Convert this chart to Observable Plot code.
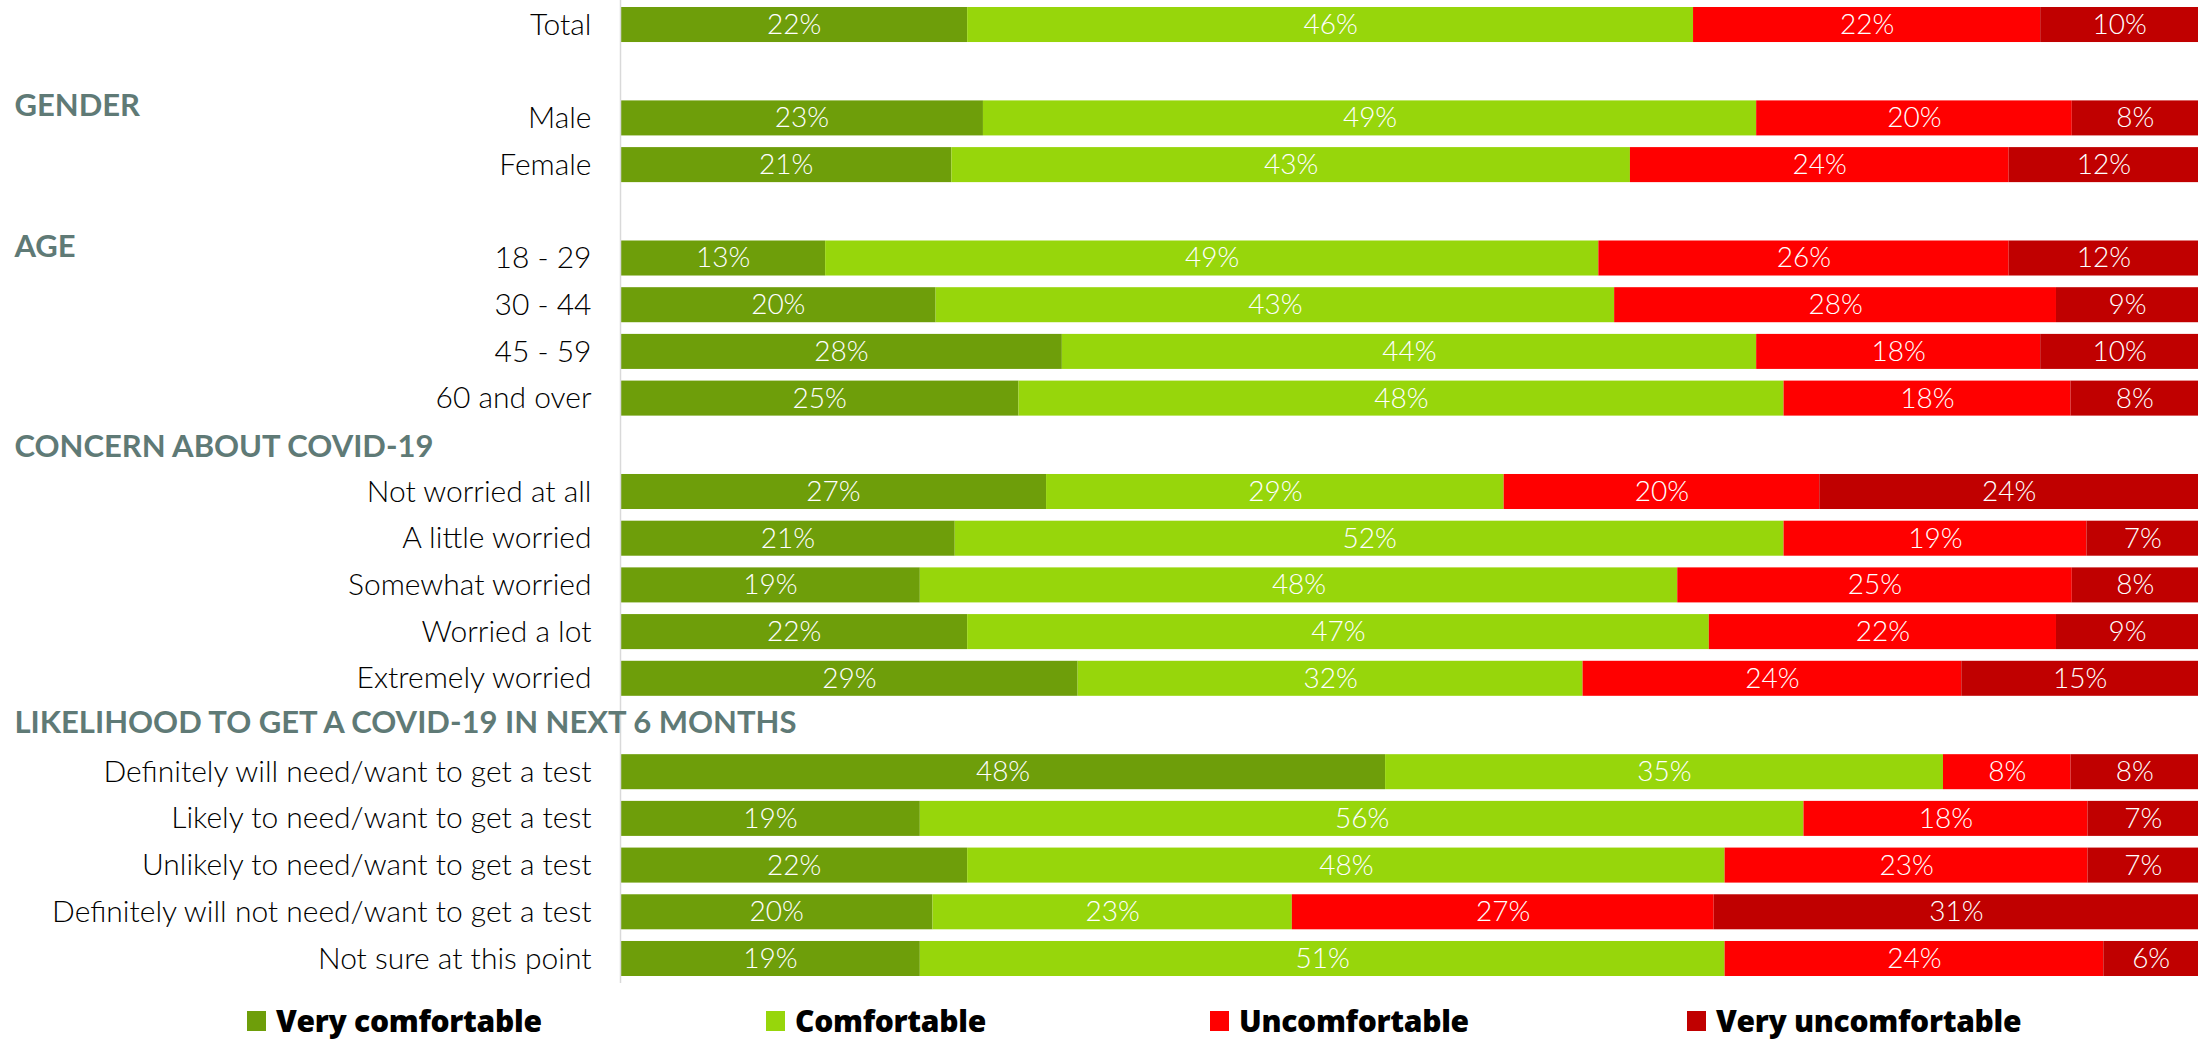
<!DOCTYPE html>
<html>
<head>
<meta charset="utf-8">
<script src="https://cdn.jsdelivr.net/npm/d3@7"></script>
<script src="https://cdn.jsdelivr.net/npm/@observablehq/plot@0.6"></script>
<style>
  html, body { margin: 0; padding: 0; background: #fff; }
  #chart { width: 2202px; }
  #legend { position: relative; width: 2202px; height: 47px; font-family: "Open Sans", Lato, sans-serif; }
  .item { position: absolute; top: 5px; display: flex; align-items: center; font-weight: 800; font-size: 30px; color: #000; letter-spacing: -0.3px; }
  .sw { width: 19px; height: 20px; margin-right: 10px; }
</style>
</head>
<body>
<div id="chart"></div>
<div id="legend"></div>
<script>
const categories = [
  "Total", "Male", "Female", "18 - 29", "30 - 44", "45 - 59", "60 and over",
  "Not worried at all", "A little worried", "Somewhat worried", "Worried a lot", "Extremely worried",
  "Definitely will need/want to get a test", "Likely to need/want to get a test",
  "Unlikely to need/want to get a test", "Definitely will not need/want to get a test",
  "Not sure at this point"
];
const headers = ["GENDER", "AGE", "CONCERN ABOUT COVID-19", "LIKELIHOOD TO GET A COVID-19 IN NEXT 6 MONTHS"];
const headerBefore = ["Male", "18 - 29", "Not worried at all", "Definitely will need/want to get a test"];
const seriesNames = ["Very comfortable", "Comfortable", "Uncomfortable", "Very uncomfortable"];
const seriesColors = ["#6E9E0A", "#97D60B", "#FF0000", "#C00000"];
const veryComfortable   = [22, 23, 21, 13, 20, 28, 25, 27, 21, 19, 22, 29, 48, 19, 22, 20, 19];
const comfortable       = [46, 49, 43, 49, 43, 44, 48, 29, 52, 48, 47, 32, 35, 56, 48, 23, 51];
const uncomfortable     = [22, 20, 24, 26, 28, 18, 18, 20, 19, 25, 22, 24,  8, 18, 23, 27, 24];
const veryUncomfortable = [10,  8, 12, 12,  9, 10,  8, 24,  7,  8,  9, 15,  8,  7,  7, 31,  6];

const seriesValues = [veryComfortable, comfortable, uncomfortable, veryUncomfortable];
const data = [];
categories.forEach((c, i) => {
  seriesNames.forEach((s, j) => data.push({category: c, series: s, value: seriesValues[j][i]}));
});

// y domain: a blank band (keyed by the header) before each section
const domain = [];
categories.forEach(c => {
  const h = headerBefore.indexOf(c);
  if (h >= 0) domain.push(headers[h]);
  domain.push(c);
});

const headerDy = [34, 35, 2, -2];
const font = "Lato, 'Open Sans', sans-serif";

const chart = Plot.plot({
  width: 2202,
  height: 995,
  marginLeft: 620,
  marginRight: 4,
  marginTop: 0,
  marginBottom: 12,
  style: {fontFamily: font, color: "#000", background: "#fff"},
  x: {axis: null, domain: [0, 1]},
  y: {domain, axis: null, paddingInner: 0.25, paddingOuter: 0.15, round: false},
  color: {domain: seriesNames, range: seriesColors},
  marks: [
    Plot.barX(data, {x: "value", y: "category", fill: "series", order: seriesNames, offset: "normalize"}),
    Plot.text(data, Plot.stackX({
      x: "value", y: "category", z: "series", order: seriesNames, offset: "normalize",
      text: d => d.value + "%", fill: "#fff", fontSize: 28, fontWeight: 300
    })),
    Plot.ruleX([0], {stroke: "#d9d9d9", strokeWidth: 1.5}),
    Plot.axisY({
      label: null, tickSize: 0, tickPadding: 29, fontSize: 30, fontWeight: 300,
      tickFormat: d => headers.includes(d) ? "" : d
    }),
    ...headers.map((h, i) => Plot.text([h], {
      y: d => d, text: d => d, frameAnchor: "left", textAnchor: "start",
      dx: -606, dy: headerDy[i], fill: "#5F7A76", fontSize: 31, fontWeight: 700
    }))
  ]
});
document.getElementById("chart").appendChild(chart);

const legendLeft = [247, 766, 1210, 1687];
const legend = document.getElementById("legend");
seriesNames.forEach((s, i) => {
  const item = document.createElement("div");
  item.className = "item";
  item.style.left = legendLeft[i] + "px";
  const sw = document.createElement("span");
  sw.className = "sw";
  sw.style.background = seriesColors[i];
  const t = document.createElement("span");
  t.textContent = s;
  item.appendChild(sw);
  item.appendChild(t);
  legend.appendChild(item);
});
</script>
</body>
</html>
